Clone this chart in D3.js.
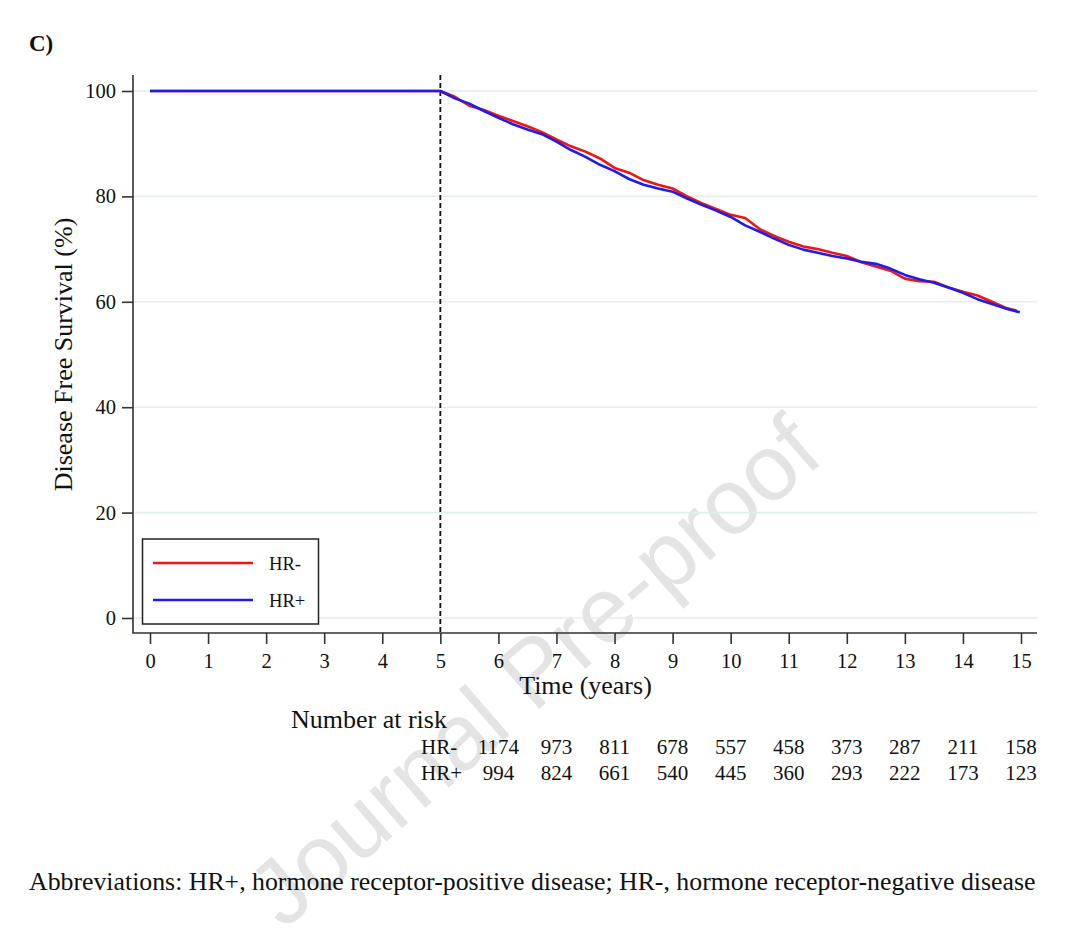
<!DOCTYPE html>
<html>
<head>
<meta charset="utf-8">
<script src="https://cdn.jsdelivr.net/npm/d3@7"></script>
<style>
  body { margin: 0; background: #fff; }
  svg text { font-family: "Liberation Serif", "Times New Roman", serif; fill: #111; }
</style>
</head>
<body>
<div id="chart"></div>
<script>
// survival estimates (years, % disease free)
const hrNegTime = [0, 5, 5.25, 5.5, 5.75, 6, 6.25, 6.5, 6.75, 7, 7.25, 7.5, 7.75, 8, 8.25, 8.5, 8.75, 9, 9.25, 9.5, 9.75, 10, 10.25, 10.5, 10.75, 11, 11.25, 11.5, 11.75, 12, 12.25, 12.5, 12.75, 13, 13.25, 13.5, 13.75, 14, 14.25, 14.5, 14.75, 14.93]
const hrNegSurv = [100, 100, 98.9, 97.2, 96.4, 95.3, 94.3, 93.3, 92.2, 90.8, 89.5, 88.5, 87.2, 85.4, 84.5, 83.1, 82.2, 81.5, 80.0, 78.7, 77.6, 76.5, 75.9, 73.8, 72.5, 71.4, 70.5, 70.0, 69.3, 68.7, 67.5, 66.7, 65.9, 64.4, 63.9, 63.8, 62.7, 61.9, 61.2, 60.0, 58.8, 58.3]
const hrPosTime = [0, 5, 5.25, 5.5, 5.75, 6, 6.25, 6.5, 6.75, 7, 7.25, 7.5, 7.75, 8, 8.25, 8.5, 8.75, 9, 9.25, 9.5, 9.75, 10, 10.25, 10.5, 10.75, 11, 11.25, 11.5, 11.75, 12, 12.25, 12.5, 12.75, 13, 13.25, 13.5, 13.75, 14, 14.25, 14.5, 14.75, 14.98]
const hrPosSurv = [100, 100, 98.6, 97.6, 96.2, 94.9, 93.7, 92.7, 91.8, 90.4, 88.8, 87.5, 86.0, 84.8, 83.3, 82.2, 81.5, 80.9, 79.6, 78.4, 77.3, 76.1, 74.5, 73.3, 72.0, 70.8, 69.9, 69.3, 68.7, 68.2, 67.6, 67.2, 66.3, 65.1, 64.3, 63.6, 62.7, 61.7, 60.5, 59.6, 58.7, 58.0]

const xTicks = [0, 1, 2, 3, 4, 5, 6, 7, 8, 9, 10, 11, 12, 13, 14, 15]
const yTicks = [0, 20, 40, 60, 80, 100]
const landmark = 5

// number at risk table
const riskTimes = [6, 7, 8, 9, 10, 11, 12, 13, 14, 15]
const riskHrNeg = [1174, 973, 811, 678, 557, 458, 373, 287, 211, 158]
const riskHrPos = [994, 824, 661, 540, 445, 360, 293, 222, 173, 123]

const groups = ['HR-', 'HR+']
const colors = ['#f21414', '#1c1cf0']

const width = 1080, height = 941

const svg = d3.select('#chart')
    .append('svg')
    .attr('width', width)
    .attr('height', height)

// watermark behind everything
svg.append('text')
    .attr('transform', 'translate(555,695) rotate(-41)')
    .attr('text-anchor', 'middle')
    .style('font-family', '"Liberation Sans", Arial, sans-serif')
    .style('font-size', '93px')
    .style('fill', '#e4e4e4')
    .text('Journal Pre-proof')

var x = d3.scaleLinear().domain([0, 15]).range([150, 1021])
var y = d3.scaleLinear().domain([0, 100]).range([618, 91])

let axisLeftX = 133, axisBottomY = 633, axisTop = 75, axisRight = 1037

// grid lines
svg.append('g')
    .selectAll('line')
    .data(yTicks)
    .enter()
    .append('line')
    .attr('x1', axisLeftX)
    .attr('x2', axisRight)
    .attr('y1', d => y(d))
    .attr('y2', d => y(d))
    .attr('stroke', '#e3edf0')
    .attr('stroke-width', 1.6)

// axes
let yAxis = svg.append('g')
    .attr('transform', 'translate(' + axisLeftX + ',0)')
    .call(d3.axisLeft(y).tickValues(yTicks).tickSize(11).tickPadding(6))
yAxis.select('.domain').remove()

let xAxis = svg.append('g')
    .attr('transform', 'translate(0,' + axisBottomY + ')')
    .call(d3.axisBottom(x).tickValues(xTicks).tickSize(11).tickPadding(9))
xAxis.select('.domain').remove()

svg.selectAll('.tick line').attr('stroke', '#333').attr('stroke-width', 1.6)
svg.selectAll('.tick text').style('font-size', '20.5px').style('font-family', '"Liberation Serif", serif').attr('fill', '#111')

svg.append('path')
    .attr('d', `M${axisLeftX},${axisTop}V${axisBottomY}H${axisRight}`)
    .attr('fill', 'none')
    .attr('stroke', '#333')
    .attr('stroke-width', 1.6)

// landmark at 5 years
svg.append('line')
    .attr('x1', x(landmark))
    .attr('x2', x(landmark))
    .attr('y1', axisTop)
    .attr('y2', axisBottomY)
    .attr('stroke', '#111')
    .attr('stroke-width', 1.8)
    .attr('stroke-dasharray', '5,3')

// curves (readings are dense enough that joining them keeps the small-step look)
let line = d3.line()
    .x(d => x(d[0]))
    .y(d => y(d[1]))

let series = [
    d3.zip(hrNegTime, hrNegSurv),
    d3.zip(hrPosTime, hrPosSurv)
]

svg.append('g')
    .selectAll('path')
    .data(series)
    .enter()
    .append('path')
    .attr('d', line)
    .attr('fill', 'none')
    .attr('stroke', (d, i) => colors[i])
    .attr('stroke-width', 2.6)
    .attr('stroke-linejoin', 'round')

// legend
let legend = svg.append('g')
legend.append('rect')
    .attr('x', 142.5)
    .attr('y', 539)
    .attr('width', 176)
    .attr('height', 85)
    .attr('fill', '#fff')
    .attr('stroke', '#222')
    .attr('stroke-width', 1.5)

legend.selectAll('line')
    .data(groups)
    .enter()
    .append('line')
    .attr('x1', 153)
    .attr('x2', 253)
    .attr('y1', (d, i) => 563 + i * 37)
    .attr('y2', (d, i) => 563 + i * 37)
    .attr('stroke', (d, i) => colors[i])
    .attr('stroke-width', 2.4)

legend.selectAll('text')
    .data(groups)
    .enter()
    .append('text')
    .attr('x', 269)
    .attr('y', (d, i) => 570 + i * 37)
    .style('font-size', '18.6px')
    .text(d => d)

// titles
svg.append('text')
    .attr('x', 29)
    .attr('y', 51)
    .style('font-size', '23px')
    .style('font-weight', 'bold')
    .text('C)')

svg.append('text')
    .attr('transform', 'translate(72,' + y(50) + ') rotate(-90)')
    .attr('text-anchor', 'middle')
    .style('font-size', '26px')
    .text('Disease Free Survival (%)')

svg.append('text')
    .attr('x', x(7.5))
    .attr('y', 694)
    .attr('text-anchor', 'middle')
    .style('font-size', '26px')
    .text('Time (years)')

// number at risk
svg.append('text')
    .attr('x', 291)
    .attr('y', 728)
    .style('font-size', '26px')
    .text('Number at risk')

let riskRows = [riskHrNeg, riskHrPos]
riskRows.forEach((row, r) => {
    let rowY = 754 + r * 26
    svg.append('text')
        .attr('x', 421)
        .attr('y', rowY)
        .style('font-size', '21px')
        .text(groups[r])
    svg.append('g')
        .selectAll('text')
        .data(row)
        .enter()
        .append('text')
        .attr('x', (d, i) => x(riskTimes[i]))
        .attr('y', rowY)
        .attr('text-anchor', 'middle')
        .style('font-size', '21px')
        .text(d => d)
})

svg.append('text')
    .attr('x', 29)
    .attr('y', 890)
    .style('font-size', '25.8px')
    .text('Abbreviations: HR+, hormone receptor-positive disease; HR-, hormone receptor-negative disease')
</script>
</body>
</html>
